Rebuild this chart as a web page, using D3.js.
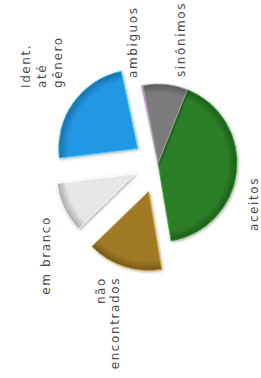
<!DOCTYPE html>
<html>
<head>
<meta charset="utf-8">
<script src="https://cdn.jsdelivr.net/npm/d3@7/dist/d3.min.js"></script>
<style>
  html, body { margin: 0; padding: 0; background: #fff; }
  #chart { width: 261px; height: 378px; }
  .label { font-family: "DejaVu Sans", Verdana, sans-serif; font-size: 12px; letter-spacing: 1.6px; fill: #4a4a4a; }
</style>
</head>
<body>
<div id="chart"></div>
<script>
// slices in drawing order (clockwise from the green one)
const categories = ['aceitos', 'não encontrados', 'em branco', 'Ident. até gênero', 'ambiguos', 'sinônimos'];
const values = [41.3, 15.4, 10.3, 23.6, 0.3, 9.1];
const colors = ['#2b7f27', '#a17a27', '#e6e6e6', '#2297e4', '#a77bb5', '#7c7c7c'];
const exploded = [0, 30, 25, 25, 0, 0];

// label layout (screen coords of the first line's baseline, text is rotated)
const labelLayout = [
    { lines: ['aceitos'], x: 258, y: 204, anchor: 'middle', step: 0 },
    { lines: ['não', 'encontrados'], x: 105, y: 277, anchor: 'end', step: 13.5 },
    { lines: ['em branco'], x: 50, y: 216, anchor: 'end', step: 0 },
    { lines: ['Ident.', 'até', 'gênero'], x: 30, y: 88, anchor: 'start', step: 16 },
    { lines: ['ambiguos'], x: 137, y: 78, anchor: 'start', step: 0 },
    { lines: ['sinônimos'], x: 185, y: 77, anchor: 'start', step: 0 }
];

const width = 261, height = 378;
const cx = 158, cy = 163, radius = 79;

const svg = d3.select('#chart').append('svg')
    .attr('width', width)
    .attr('height', height);

const defs = svg.append('defs');

const shadow = defs.append('filter')
    .attr('id', 'shadow')
    .attr('x', '-20%').attr('y', '-20%')
    .attr('width', '140%').attr('height', '140%');
shadow.append('feDropShadow')
    .attr('dx', 1).attr('dy', 1)
    .attr('stdDeviation', 1.6)
    .attr('flood-color', '#000')
    .attr('flood-opacity', 0.35);

colors.forEach((c, i) => {
    const grad = defs.append('radialGradient')
        .attr('id', 'grad' + i)
        .attr('gradientUnits', 'userSpaceOnUse')
        .attr('cx', 0).attr('cy', 0).attr('r', radius);
    grad.append('stop').attr('offset', '0%').attr('stop-color', c);
    grad.append('stop').attr('offset', '88%').attr('stop-color', c);
    grad.append('stop').attr('offset', '100%').attr('stop-color', d3.color(c).darker(0.9));
});

const pie = d3.pie()
    .sort(null)
    .startAngle(21.8 * Math.PI / 180)
    .endAngle((21.8 + 360) * Math.PI / 180)
    .value(d => d.value);

const arc = d3.arc().innerRadius(0).outerRadius(radius);

const data = categories.map((name, i) => ({ name, value: values[i], i }));
const arcs = pie(data);

const g = svg.append('g')
    .attr('transform', `translate(${cx},${cy})`);

const slices = g.selectAll('.slice')
    .data(arcs)
    .enter().append('g')
    .attr('class', 'slice')
    .attr('transform', d => {
        const mid = (d.startAngle + d.endAngle) / 2;
        const off = exploded[d.data.i];
        return `translate(${off * Math.sin(mid)},${-off * Math.cos(mid)})`;
    });

slices.append('path')
    .attr('d', arc)
    .attr('fill', d => `url(#grad${d.data.i})`)
    .attr('stroke', d => d3.color(colors[d.data.i]).brighter(0.8))
    .attr('stroke-width', 0.8)
    .attr('filter', 'url(#shadow)');

// labels, rotated like the rest of the chart
const labels = svg.selectAll('.label')
    .data(labelLayout)
    .enter().append('text')
    .attr('class', 'label')
    .attr('transform', d => `translate(${d.x},${d.y}) rotate(-90)`)
    .attr('text-anchor', d => d.anchor);

labels.selectAll('tspan')
    .data(d => d.lines.map((t, k) => ({ t, k, step: d.step })))
    .enter().append('tspan')
    .attr('x', 0)
    .attr('y', d => d.k * d.step)
    .text(d => d.t);
</script>
</body>
</html>
